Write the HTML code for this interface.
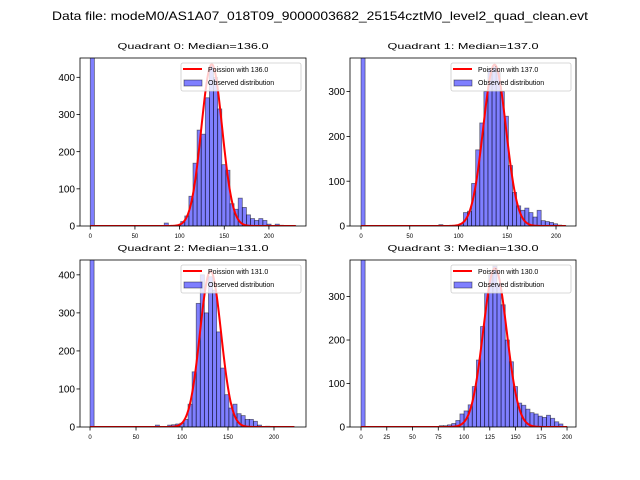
<!DOCTYPE html>
<html><head><meta charset="utf-8"><style>
html,body{margin:0;padding:0;background:#fff;}
svg{display:block;font-family:"Liberation Sans","DejaVu Sans",sans-serif;}
</style></head><body>
<svg id="fig" width="640" height="480" viewBox="0 0 640 480">
<rect x="0" y="0" width="640" height="480" fill="#fff"/>
<text x="320" y="20" font-size="12" text-anchor="middle" textLength="536" lengthAdjust="spacingAndGlyphs">Data file: modeM0/AS1A07_018T09_9000003682_25154cztM0_level2_quad_clean.evt</text>
</svg>
<script>
const titles = ["Quadrant 0: Median=136.0","Quadrant 1: Median=137.0","Quadrant 2: Median=131.0","Quadrant 3: Median=130.0"];
const medians = [136.0,137.0,131.0,130.0];
const peakHeights = [435,360,410,365];
const dataMax = [230,210,222,200];
const yMaxes = [452,375,439,384];
const xMins = [-11.5,-11.3,-10.9,-10.7];
const xMaxes = [241.5,220.5,234.8,208.7];
const yTicks0 = [0,100,200,300,400];
const yTicks1 = [0,100,200,300];
const yTicks2 = [0,100,200,300,400];
const yTicks3 = [0,100,200,300];
const xTicks0 = [0,50,100,150,200];
const xTicks1 = [0,50,100,150,200];
const xTicks2 = [0,50,100,150,200];
const xTicks3 = [0,25,50,75,100,125,150,175,200];
const counts0 = [1000,0,0,0,0,0,0,0,0,0, 0,0,0,0,0,0,0,0,8,0, 0,3,12,27,80,169,258,247,345,430, 400,315,165,150,60,45,75,50,30,20, 15,20,15,5,0,5,2,1,1,1];
const counts1 = [1000,0,0,0,0,0,0,0,0,0, 0,0,0,0,0,0,0,0,0,3, 0,0,0,0,5,30,33,95,170,230, 300,350,355,345,300,245,135,75,45,35, 40,30,20,35,12,10,8,5,2,1];
const counts2 = [1000,0,0,0,0,0,0,0,0,0, 0,0,0,0,0,0,5,0,0,5, 6,8,10,20,60,145,325,400,300,395, 360,250,155,85,50,60,35,30,20,20, 15,5,0,2,0,0,0,0,0,1];
const counts3 = [1000,0,0,0,0,0,0,0,0,0, 0,0,0,0,0,0,0,0,0,3, 3,5,8,15,30,37,51,93,154,231, 308,350,370,330,281,200,150,93,55,50, 41,33,30,25,22,27,20,12,7,1];

const NS="http://www.w3.org/2000/svg";
const svg=document.getElementById('fig');
function mk(tag,attrs,parent){const e=document.createElementNS(NS,tag);for(const k in attrs)e.setAttribute(k,attrs[k]);(parent||svg).appendChild(e);return e;}
const boxes=[{L:80,R:306,T:58,B:226},{L:350,R:576,T:58,B:226},{L:80,R:306,T:260,B:427},{L:350,R:576,T:260,B:427}];
const allCounts=[counts0,counts1,counts2,counts3];
const allY=[yTicks0,yTicks1,yTicks2,yTicks3];
const allX=[xTicks0,xTicks1,xTicks2,xTicks3];

boxes.forEach((b,q)=>{
  const g=mk('g',{});
  
  
  const sx=v=>b.L+(v-xMins[q])/(xMaxes[q]-xMins[q])*(b.R-b.L);
  const sy=v=>b.B-v/yMaxes[q]*(b.B-b.T);
  const cp=mk('clipPath',{id:'cp'+q},g);
  mk('rect',{x:b.L,y:b.T,width:b.R-b.L,height:b.B-b.T},cp);
  const plot=mk('g',{'clip-path':'url(#cp'+q+')'},g);
  const c=allCounts[q];const n=c.length;const w=dataMax[q]/n;
  c.forEach((v,i)=>{
    if(v<=0)return;
    const x0=sx(i*w),x1=sx((i+1)*w);
    const r=mk('rect',{x:x0,y:sy(v),width:x1-x0,height:sy(0)-sy(v),fill:'#0000ff','fill-opacity':0.5,stroke:'#000','stroke-opacity':0.5,'stroke-width':0.8},plot);
    
    
  });
  let d='';
  for(let x=0;x<=dataMax[q];x+=0.5){
    const y=peakHeights[q]*Math.exp(-Math.pow(x-medians[q],2)/(2*medians[q]));
    d+=(x===0?'M':'L')+sx(x).toFixed(2)+','+sy(y).toFixed(2);
  }
  const p=mk('path',{d:d,fill:'none',stroke:'#ff0000','stroke-width':2},plot);
  
  
  const fr=mk('rect',{x:b.L,y:b.T,width:b.R-b.L,height:b.B-b.T,fill:'none',stroke:'#000','stroke-width':0.8},g);
  
  
  allY[q].forEach(v=>{
    const y=sy(v);
    mk('line',{x1:b.L-3.5,x2:b.L,y1:y,y2:y,stroke:'#000','stroke-width':0.8},g);
    const t=mk('text',{x:b.L-5,y:y+3.6,'font-size':10,'text-anchor':'end'},g);
    t.textContent=v;
    
    
  });
  allX[q].forEach(v=>{
    const x=sx(v);
    mk('line',{x1:x,x2:x,y1:b.B,y2:b.B+3.5,stroke:'#000','stroke-width':0.8},g);
    const t=mk('text',{x:x,y:b.B+12,'font-size':6,'text-anchor':'middle'},g);
    t.textContent=v;
    
    
  });
  const tt=mk('text',{x:(b.L+b.R)/2,y:b.T-9,'font-size':8.5,'text-anchor':'middle',textLength:151,lengthAdjust:'spacingAndGlyphs'},g);
  tt.textContent=titles[q];
  
  
  const lg=mk('g',{},g);
  
  
  const lx=b.R-125;
  mk('rect',{x:lx,y:b.T+5,width:120,height:28,rx:2,fill:'#fff','fill-opacity':0.8,stroke:'#ccc','stroke-width':0.8},lg);
  mk('line',{x1:lx+2,x2:lx+21,y1:b.T+11,y2:b.T+11,stroke:'#ff0000','stroke-width':2},lg);
  mk('rect',{x:lx+3,y:b.T+22,width:18,height:6,fill:'#0000ff','fill-opacity':0.5,stroke:'#000','stroke-opacity':0.5,'stroke-width':0.8},lg);
  const l1=mk('text',{x:lx+27,y:b.T+14,'font-size':7},lg);
  l1.textContent='Poission with '+medians[q].toFixed(1);
  
  
  const l2=mk('text',{x:lx+27,y:b.T+27,'font-size':7},lg);
  l2.textContent='Observed distribution';
  
  
});
</script>
</body></html>
